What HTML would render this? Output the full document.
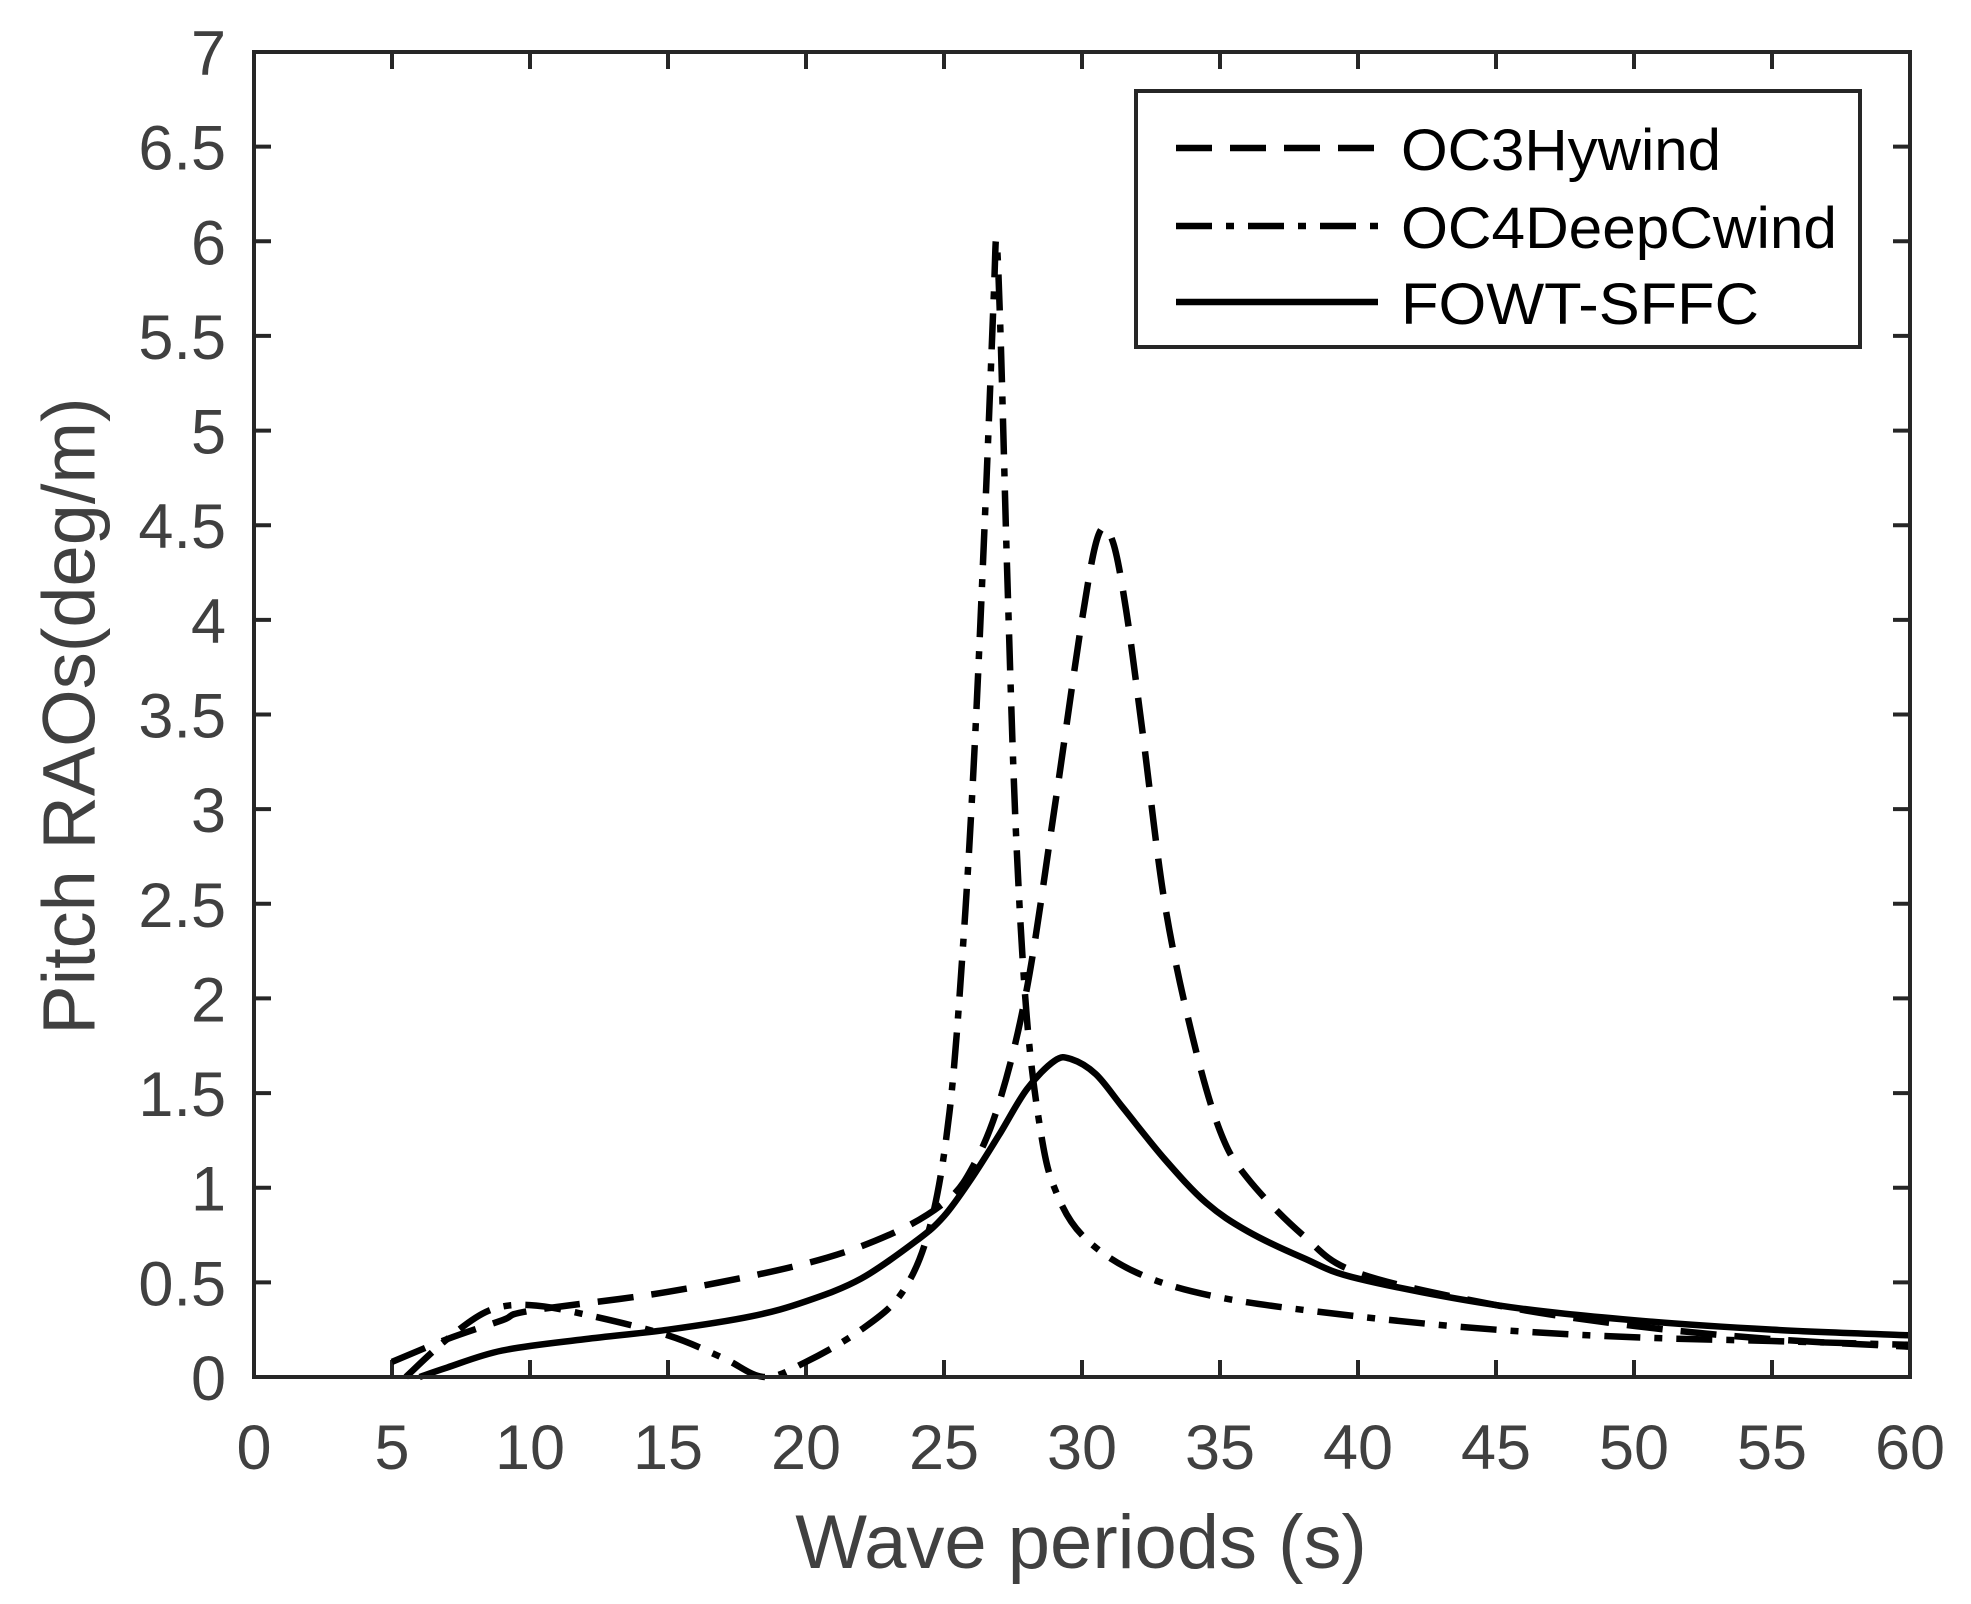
<!DOCTYPE html>
<html><head><meta charset="utf-8"><style>
html,body{margin:0;padding:0;background:#fff;}
svg{display:block;}
text{font-family:"Liberation Sans",Arial,sans-serif;}
</style></head><body>
<svg id="s" width="1971" height="1604" viewBox="0 0 1971 1604" xmlns="http://www.w3.org/2000/svg">
<rect width="1971" height="1604" fill="#fff"/>
<g id="ticks" stroke="#262626" stroke-width="4"></g>
<g id="labels" fill="#404040" font-size="63"></g>
<g id="curves" fill="none" stroke="#000" stroke-width="6.5" stroke-linejoin="round"></g>
<rect x="254" y="52" width="1656" height="1325" fill="none" stroke="#262626" stroke-width="4"/>
<text x="75" y="716" font-size="74" fill="#404040" text-anchor="middle" transform="rotate(-90 75 716)" dominant-baseline="middle">Pitch RAOs(deg/m)</text>
<text x="1081" y="1568" font-size="76" fill="#404040" text-anchor="middle">Wave periods (s)</text>
<g>
<rect x="1136" y="91" width="724" height="256" fill="#fff" stroke="#262626" stroke-width="4"/>
<line x1="1176" y1="148" x2="1378" y2="148" stroke="#000" stroke-width="6.5" stroke-dasharray="36,18"/>
<line x1="1176" y1="226" x2="1378" y2="226" stroke="#000" stroke-width="6.5" stroke-dasharray="36,14,8,14"/>
<line x1="1176" y1="302" x2="1378" y2="302" stroke="#000" stroke-width="6.5"/>
<text x="1401" y="170" font-size="58" fill="#000" textLength="320" lengthAdjust="spacingAndGlyphs">OC3Hywind</text>
<text x="1401" y="248" font-size="58" fill="#000" textLength="436" lengthAdjust="spacingAndGlyphs">OC4DeepCwind</text>
<text x="1401" y="324" font-size="58" fill="#000" textLength="358" lengthAdjust="spacingAndGlyphs">FOWT-SFFC</text>
</g>
</svg>
<script>
var L=254,R=1910,T=52,B=1377;
function X(v){return L+(R-L)*v/60;}function Y(v){return B-(B-T)*v/7;}
var tk=document.getElementById('ticks'),lb=document.getElementById('labels'),ns='http://www.w3.org/2000/svg';
function el(p,n,a,t){var e=document.createElementNS(ns,n);for(var k in a)e.setAttribute(k,a[k]);if(t!=null)e.textContent=t;p.appendChild(e);}
for(var i=0;i<=12;i++){var x=X(i*5);el(tk,'line',{x1:x,y1:B,x2:x,y2:B-17});el(tk,'line',{x1:x,y1:T,x2:x,y2:T+17});
el(lb,'text',{x:x,y:B+92,'text-anchor':'middle'},String(i*5));}
for(var j=0;j<=14;j++){var y=Y(j*0.5);el(tk,'line',{x1:L,y1:y,x2:L+17,y2:y});el(tk,'line',{x1:R,y1:y,x2:R-17,y2:y});
el(lb,'text',{x:L-28,y:y+23,'text-anchor':'end'},String(j*0.5));}
function path(pts){var p=pts.map(function(q){return[X(q[0]),Y(q[1])];});var d='M'+p[0][0]+','+p[0][1];
for(var i=0;i<p.length-1;i++){var p0=p[i-1]||p[i],p1=p[i],p2=p[i+1],p3=p[i+2]||p2;var t=6;
d+=' C'+(p1[0]+(p2[0]-p0[0])/t)+','+(p1[1]+(p2[1]-p0[1])/t)+' '+(p2[0]-(p3[0]-p1[0])/t)+','+(p2[1]-(p3[1]-p1[1])/t)+' '+p2[0]+','+p2[1];}return d;}
var c=document.getElementById('curves');
var oc3=[[5,0.08],[7,0.2],[9,0.3],[10,0.35],[15,0.45],[20,0.6],[23,0.75],[25,0.92],[26,1.1],[27,1.45],[28,2.05],[29,3.0],[30,4.0],[30.6,4.45],[31.1,4.42],[31.6,4.05],[32.2,3.4],[33,2.5],[34,1.8],[35,1.3],[36,1.05],[38,0.75],[40,0.55],[45,0.38],[50,0.27],[55,0.2],[60,0.16]];
var oc4=[[5.5,0.0],[7,0.2],[8.5,0.35],[10,0.38],[12,0.33],[15,0.22],[17,0.1],[18.5,0.0],[20,0.08],[22,0.25],[23.5,0.45],[24.5,0.8],[25.2,1.4],[25.7,2.3],[26.1,3.3],[26.5,4.6],[26.8,5.7],[26.9,6.0],[27.05,5.5],[27.3,4.2],[27.6,2.9],[28,1.9],[28.5,1.3],[29,1.0],[30,0.75],[32,0.55],[35,0.42],[40,0.32],[45,0.25],[50,0.21],[55,0.19],[60,0.17]];
var sf=[[6,0.0],[7,0.05],[9,0.14],[12,0.2],[15,0.25],[18,0.32],[20,0.4],[22,0.52],[24,0.72],[25,0.85],[26,1.05],[27,1.28],[28,1.52],[29,1.67],[29.6,1.68],[30.5,1.6],[31.5,1.42],[33,1.15],[34.5,0.92],[36,0.77],[38,0.63],[40,0.52],[45,0.38],[50,0.3],[55,0.25],[60,0.22]];
el(c,'path',{d:path(sf)});
el(c,'path',{d:path(oc3),'stroke-dasharray':'36,18'});
el(c,'path',{d:path(oc4),'stroke-dasharray':'36,14,8,14'});
</script>
</body></html>
